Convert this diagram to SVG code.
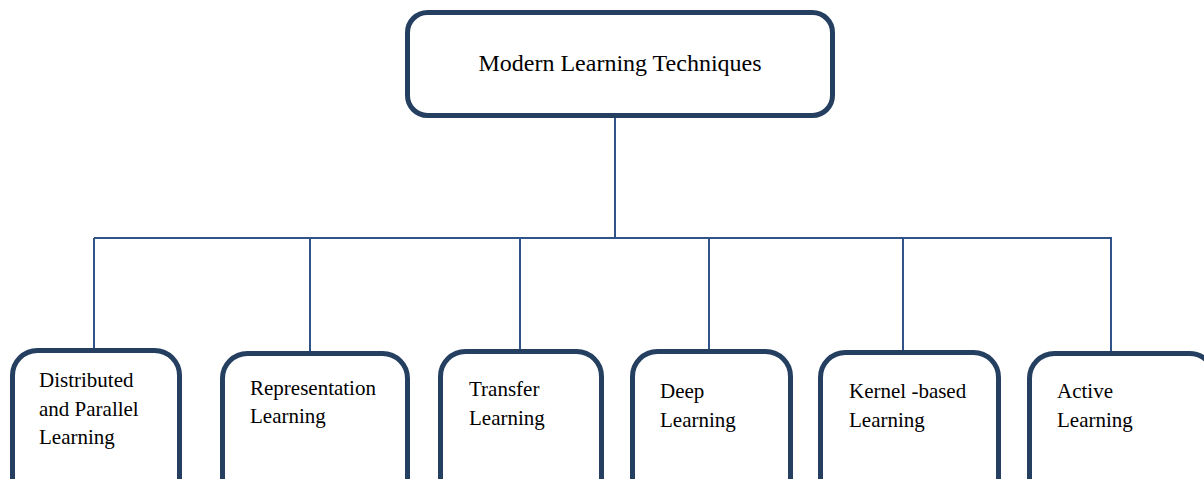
<svg xmlns="http://www.w3.org/2000/svg" width="1204" height="479" viewBox="0 0 1204 479">
<style>
.box{fill:#fff;stroke:#243f60;stroke-width:5}
.conn{stroke:#30538a;stroke-width:2;fill:none}
text{font-family:"Liberation Serif","Times New Roman",serif;fill:#000}
.t{font-size:21px}
.top{font-size:24px}
</style>
<rect width="1204" height="479" fill="#fff"/>
<g id="connectors">
<line class="conn" x1="615" y1="118" x2="615" y2="238"/>
<line class="conn" x1="94" y1="238" x2="1112" y2="238"/>
<line class="conn" x1="94" y1="238" x2="94" y2="350"/>
<line class="conn" x1="310" y1="238" x2="310" y2="353"/>
<line class="conn" x1="520" y1="238" x2="520" y2="351"/>
<line class="conn" x1="709" y1="238" x2="709" y2="351"/>
<line class="conn" x1="903" y1="238" x2="903" y2="352"/>
<line class="conn" x1="1111" y1="238" x2="1111" y2="353"/>
</g>
<g id="root">
<rect class="box" x="407.5" y="12.5" width="425" height="103" rx="20"/>
<text class="top" x="620" y="71" text-anchor="middle">Modern Learning Techniques</text>
</g>
<g id="distributed">
<rect class="box" x="12.5" y="350.5" width="167" height="160" rx="25"/>
<text class="t" x="39" y="387">Distributed</text>
<text class="t" x="39" y="416">and Parallel</text>
<text class="t" x="39" y="444">Learning</text>
</g>
<g id="representation">
<rect class="box" x="222.5" y="353.5" width="185" height="160" rx="25"/>
<text class="t" x="250" y="395">Representation</text>
<text class="t" x="250" y="423">Learning</text>
</g>
<g id="transfer">
<rect class="box" x="440.5" y="351.5" width="161" height="160" rx="25"/>
<text class="t" x="469" y="396">Transfer</text>
<text class="t" x="469" y="425">Learning</text>
</g>
<g id="deep">
<rect class="box" x="632.5" y="351.5" width="158" height="160" rx="25"/>
<text class="t" x="660" y="398">Deep</text>
<text class="t" x="660" y="427">Learning</text>
</g>
<g id="kernel">
<rect class="box" x="820.5" y="352.5" width="178" height="160" rx="25"/>
<text class="t" x="849" y="398">Kernel -based</text>
<text class="t" x="849" y="427">Learning</text>
</g>
<g id="active">
<rect class="box" x="1029.5" y="353.5" width="185" height="160" rx="25"/>
<text class="t" x="1057" y="398">Active</text>
<text class="t" x="1057" y="427">Learning</text>
</g>
</svg>
